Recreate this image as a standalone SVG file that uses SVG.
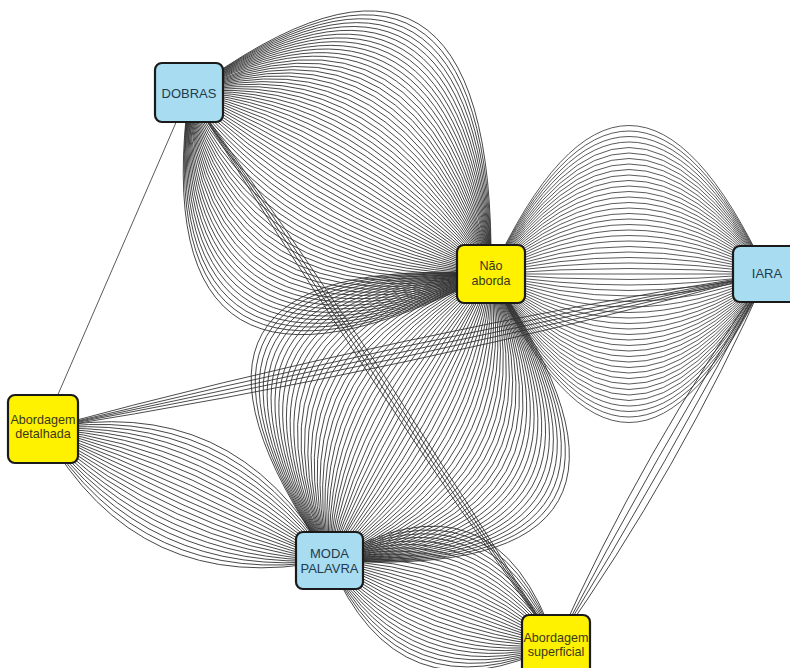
<svg xmlns="http://www.w3.org/2000/svg" width="790" height="668" viewBox="0 0 790 668">
<style>
.e path,.e line{fill:none;stroke:#303030;stroke-width:0.8}
.node rect{stroke:#1a1a1a;stroke-width:2.2}
.blue rect{fill:#a8dcf1}
.yel rect{fill:#fff200}
.node text{font-family:"Liberation Sans",Arial,sans-serif;text-anchor:middle}
.blue text{fill:#243b4c;font-size:13px}
.yel text{fill:#3a381c;font-size:12.6px}
</style>
<rect width="790" height="668" fill="#ffffff"/>
<g id="connectors" class="e">
<g id="e-dobras-nao" transform="translate(340,183.25) rotate(31)">
<path d="M-176.2,0Q-30,-354 176.2,0"/><path d="M-176.2,0Q-30,-344 176.2,0"/><path d="M-176.2,0Q-30,-334 176.2,0"/><path d="M-176.2,0Q-30,-324 176.2,0"/><path d="M-176.2,0Q-30,-314 176.2,0"/><path d="M-176.2,0Q-30,-304 176.2,0"/><path d="M-176.2,0Q-30,-294 176.2,0"/><path d="M-176.2,0Q-30,-284 176.2,0"/><path d="M-176.2,0Q-30,-274 176.2,0"/><path d="M-176.2,0Q-30,-264 176.2,0"/><path d="M-176.2,0Q-30,-254 176.2,0"/><path d="M-176.2,0Q-30,-244 176.2,0"/><path d="M-176.2,0Q-30,-234 176.2,0"/><path d="M-176.2,0Q-30,-224 176.2,0"/><path d="M-176.2,0Q-30,-214 176.2,0"/><path d="M-176.2,0Q-30,-204 176.2,0"/><path d="M-176.2,0Q-30,-194 176.2,0"/><path d="M-176.2,0Q-30,-184 176.2,0"/><path d="M-176.2,0Q-30,-174 176.2,0"/><path d="M-176.2,0Q-30,-164 176.2,0"/><path d="M-176.2,0Q-30,-154 176.2,0"/><path d="M-176.2,0Q-30,-144 176.2,0"/><path d="M-176.2,0Q-30,-134 176.2,0"/><path d="M-176.2,0Q-30,-124 176.2,0"/><path d="M-176.2,0Q-30,-114 176.2,0"/><path d="M-176.2,0Q-30,-104 176.2,0"/><path d="M-176.2,0Q-30,-94 176.2,0"/><path d="M-176.2,0Q-30,-84 176.2,0"/><path d="M-176.2,0Q-30,-74 176.2,0"/><path d="M-176.2,0Q-30,-64 176.2,0"/><path d="M-176.2,0Q-30,-54 176.2,0"/><path d="M-176.2,0Q-30,-44 176.2,0"/><path d="M-176.2,0Q-30,-34 176.2,0"/><path d="M-176.2,0Q-30,-24 176.2,0"/><path d="M-176.2,0Q-30,-14 176.2,0"/><path d="M-176.2,0Q-30,-4 176.2,0"/><path d="M-176.2,0Q-30,6 176.2,0"/><path d="M-176.2,0Q-30,16 176.2,0"/><path d="M-176.2,0Q-30,26 176.2,0"/><path d="M-176.2,0Q-30,36 176.2,0"/><path d="M-176.2,0Q-30,46 176.2,0"/><path d="M-176.2,0Q-30,56 176.2,0"/><path d="M-176.2,0Q-30,66 176.2,0"/><path d="M-176.2,0Q-30,76 176.2,0"/><path d="M-176.2,0Q-30,86 176.2,0"/><path d="M-176.2,0Q-30,96 176.2,0"/><path d="M-176.2,0Q-30,106 176.2,0"/><path d="M-176.2,0Q-30,116 176.2,0"/><path d="M-176.2,0Q-30,126 176.2,0"/><path d="M-176.2,0Q-30,136 176.2,0"/><path d="M-176.2,0Q-30,146 176.2,0"/><path d="M-176.2,0Q-30,156 176.2,0"/><path d="M-176.2,0Q-30,166 176.2,0"/><path d="M-176.2,0Q-30,176 176.2,0"/><path d="M-176.2,0Q-30,186 176.2,0"/><path d="M-176.2,0Q-30,196 176.2,0"/><path d="M-176.2,0Q-30,206 176.2,0"/><path d="M-176.2,0Q-30,216 176.2,0"/><path d="M-176.2,0Q-30,226 176.2,0"/><path d="M-176.2,0Q-30,236 176.2,0"/><path d="M-176.2,0Q-30,246 176.2,0"/><path d="M-176.2,0Q-30,256 176.2,0"/><path d="M-176.2,0Q-30,266 176.2,0"/><path d="M-176.2,0Q-30,276 176.2,0"/><path d="M-176.2,0Q-30,286 176.2,0"/><path d="M-176.2,0Q-30,296 176.2,0"/><path d="M-176.2,0Q-30,306 176.2,0"/><path d="M-176.2,0Q-30,316 176.2,0"/><path d="M-176.2,0Q-30,326 176.2,0"/><path d="M-176.2,0Q-30,336 176.2,0"/>
</g>
<g id="e-nao-iara" transform="translate(629,274)">
<path d="M-138,0Q0,-297 138,0"/><path d="M-138,0Q0,-286 138,0"/><path d="M-138,0Q0,-275 138,0"/><path d="M-138,0Q0,-264 138,0"/><path d="M-138,0Q0,-253 138,0"/><path d="M-138,0Q0,-242 138,0"/><path d="M-138,0Q0,-231 138,0"/><path d="M-138,0Q0,-220 138,0"/><path d="M-138,0Q0,-209 138,0"/><path d="M-138,0Q0,-198 138,0"/><path d="M-138,0Q0,-187 138,0"/><path d="M-138,0Q0,-176 138,0"/><path d="M-138,0Q0,-165 138,0"/><path d="M-138,0Q0,-154 138,0"/><path d="M-138,0Q0,-143 138,0"/><path d="M-138,0Q0,-132 138,0"/><path d="M-138,0Q0,-121 138,0"/><path d="M-138,0Q0,-110 138,0"/><path d="M-138,0Q0,-99 138,0"/><path d="M-138,0Q0,-88 138,0"/><path d="M-138,0Q0,-77 138,0"/><path d="M-138,0Q0,-66 138,0"/><path d="M-138,0Q0,-55 138,0"/><path d="M-138,0Q0,-44 138,0"/><path d="M-138,0Q0,-33 138,0"/><path d="M-138,0Q0,-22 138,0"/><path d="M-138,0Q0,-11 138,0"/><path d="M-138,0L138,0"/><path d="M-138,0Q0,11 138,0"/><path d="M-138,0Q0,22 138,0"/><path d="M-138,0Q0,33 138,0"/><path d="M-138,0Q0,44 138,0"/><path d="M-138,0Q0,55 138,0"/><path d="M-138,0Q0,66 138,0"/><path d="M-138,0Q0,77 138,0"/><path d="M-138,0Q0,88 138,0"/><path d="M-138,0Q0,99 138,0"/><path d="M-138,0Q0,110 138,0"/><path d="M-138,0Q0,121 138,0"/><path d="M-138,0Q0,132 138,0"/><path d="M-138,0Q0,143 138,0"/><path d="M-138,0Q0,154 138,0"/><path d="M-138,0Q0,165 138,0"/><path d="M-138,0Q0,176 138,0"/><path d="M-138,0Q0,187 138,0"/><path d="M-138,0Q0,198 138,0"/><path d="M-138,0Q0,209 138,0"/><path d="M-138,0Q0,220 138,0"/><path d="M-138,0Q0,231 138,0"/><path d="M-138,0Q0,242 138,0"/><path d="M-138,0Q0,253 138,0"/><path d="M-138,0Q0,264 138,0"/><path d="M-138,0Q0,275 138,0"/><path d="M-138,0Q0,286 138,0"/><path d="M-138,0Q0,297 138,0"/>
</g>
<g id="e-nao-moda" transform="translate(410.25,417.25) rotate(119.4)">
<path d="M-164.4,0Q0,-340 164.4,0"/><path d="M-164.4,0Q0,-330 164.4,0"/><path d="M-164.4,0Q0,-320 164.4,0"/><path d="M-164.4,0Q0,-310 164.4,0"/><path d="M-164.4,0Q0,-300 164.4,0"/><path d="M-164.4,0Q0,-290 164.4,0"/><path d="M-164.4,0Q0,-280 164.4,0"/><path d="M-164.4,0Q0,-270 164.4,0"/><path d="M-164.4,0Q0,-260 164.4,0"/><path d="M-164.4,0Q0,-250 164.4,0"/><path d="M-164.4,0Q0,-240 164.4,0"/><path d="M-164.4,0Q0,-230 164.4,0"/><path d="M-164.4,0Q0,-220 164.4,0"/><path d="M-164.4,0Q0,-210 164.4,0"/><path d="M-164.4,0Q0,-200 164.4,0"/><path d="M-164.4,0Q0,-190 164.4,0"/><path d="M-164.4,0Q0,-180 164.4,0"/><path d="M-164.4,0Q0,-170 164.4,0"/><path d="M-164.4,0Q0,-160 164.4,0"/><path d="M-164.4,0Q0,-150 164.4,0"/><path d="M-164.4,0Q0,-140 164.4,0"/><path d="M-164.4,0Q0,-130 164.4,0"/><path d="M-164.4,0Q0,-120 164.4,0"/><path d="M-164.4,0Q0,-110 164.4,0"/><path d="M-164.4,0Q0,-100 164.4,0"/><path d="M-164.4,0Q0,-90 164.4,0"/><path d="M-164.4,0Q0,-80 164.4,0"/><path d="M-164.4,0Q0,-70 164.4,0"/><path d="M-164.4,0Q0,-60 164.4,0"/><path d="M-164.4,0Q0,-50 164.4,0"/><path d="M-164.4,0Q0,-40 164.4,0"/><path d="M-164.4,0Q0,-30 164.4,0"/><path d="M-164.4,0Q0,-20 164.4,0"/><path d="M-164.4,0Q0,-10 164.4,0"/><path d="M-164.4,0L164.4,0"/><path d="M-164.4,0Q0,10 164.4,0"/><path d="M-164.4,0Q0,20 164.4,0"/><path d="M-164.4,0Q0,30 164.4,0"/><path d="M-164.4,0Q0,40 164.4,0"/><path d="M-164.4,0Q0,50 164.4,0"/><path d="M-164.4,0Q0,60 164.4,0"/><path d="M-164.4,0Q0,70 164.4,0"/><path d="M-164.4,0Q0,80 164.4,0"/><path d="M-164.4,0Q0,90 164.4,0"/><path d="M-164.4,0Q0,100 164.4,0"/><path d="M-164.4,0Q0,110 164.4,0"/><path d="M-164.4,0Q0,120 164.4,0"/><path d="M-164.4,0Q0,130 164.4,0"/><path d="M-164.4,0Q0,140 164.4,0"/><path d="M-164.4,0Q0,150 164.4,0"/><path d="M-164.4,0Q0,160 164.4,0"/><path d="M-164.4,0Q0,170 164.4,0"/><path d="M-164.4,0Q0,180 164.4,0"/><path d="M-164.4,0Q0,190 164.4,0"/><path d="M-164.4,0Q0,200 164.4,0"/><path d="M-164.4,0Q0,210 164.4,0"/><path d="M-164.4,0Q0,220 164.4,0"/><path d="M-164.4,0Q0,230 164.4,0"/><path d="M-164.4,0Q0,240 164.4,0"/><path d="M-164.4,0Q0,250 164.4,0"/><path d="M-164.4,0Q0,260 164.4,0"/><path d="M-164.4,0Q0,270 164.4,0"/><path d="M-164.4,0Q0,280 164.4,0"/><path d="M-164.4,0Q0,290 164.4,0"/><path d="M-164.4,0Q0,300 164.4,0"/><path d="M-164.4,0Q0,310 164.4,0"/><path d="M-164.4,0Q0,320 164.4,0"/><path d="M-164.4,0Q0,330 164.4,0"/><path d="M-164.4,0Q0,340 164.4,0"/>
</g>
<g id="e-detalhada-moda" transform="translate(186.25,494.75) rotate(24.65)">
<path d="M-157.6,0Q0,-115.5 157.6,0"/><path d="M-157.6,0Q0,-105 157.6,0"/><path d="M-157.6,0Q0,-94.5 157.6,0"/><path d="M-157.6,0Q0,-84 157.6,0"/><path d="M-157.6,0Q0,-73.5 157.6,0"/><path d="M-157.6,0Q0,-63 157.6,0"/><path d="M-157.6,0Q0,-52.5 157.6,0"/><path d="M-157.6,0Q0,-42 157.6,0"/><path d="M-157.6,0Q0,-31.5 157.6,0"/><path d="M-157.6,0Q0,-21 157.6,0"/><path d="M-157.6,0Q0,-10.5 157.6,0"/><path d="M-157.6,0L157.6,0"/><path d="M-157.6,0Q0,10.5 157.6,0"/><path d="M-157.6,0Q0,21 157.6,0"/><path d="M-157.6,0Q0,31.5 157.6,0"/><path d="M-157.6,0Q0,42 157.6,0"/><path d="M-157.6,0Q0,52.5 157.6,0"/><path d="M-157.6,0Q0,63 157.6,0"/><path d="M-157.6,0Q0,73.5 157.6,0"/><path d="M-157.6,0Q0,84 157.6,0"/><path d="M-157.6,0Q0,94.5 157.6,0"/><path d="M-157.6,0Q0,105 157.6,0"/><path d="M-157.6,0Q0,115.5 157.6,0"/>
</g>
<g id="e-moda-superficial" transform="translate(442.75,602.75) rotate(20.46)">
<path d="M-120.9,0Q0,-150 120.9,0"/><path d="M-120.9,0Q0,-141 120.9,0"/><path d="M-120.9,0Q0,-132 120.9,0"/><path d="M-120.9,0Q0,-123 120.9,0"/><path d="M-120.9,0Q0,-114 120.9,0"/><path d="M-120.9,0Q0,-105 120.9,0"/><path d="M-120.9,0Q0,-96 120.9,0"/><path d="M-120.9,0Q0,-87 120.9,0"/><path d="M-120.9,0Q0,-78 120.9,0"/><path d="M-120.9,0Q0,-69 120.9,0"/><path d="M-120.9,0Q0,-60 120.9,0"/><path d="M-120.9,0Q0,-51 120.9,0"/><path d="M-120.9,0Q0,-42 120.9,0"/><path d="M-120.9,0Q0,-33 120.9,0"/><path d="M-120.9,0Q0,-24 120.9,0"/><path d="M-120.9,0Q0,-15 120.9,0"/><path d="M-120.9,0Q0,-6 120.9,0"/><path d="M-120.9,0Q0,3 120.9,0"/><path d="M-120.9,0Q0,12 120.9,0"/><path d="M-120.9,0Q0,21 120.9,0"/><path d="M-120.9,0Q0,30 120.9,0"/><path d="M-120.9,0Q0,39 120.9,0"/><path d="M-120.9,0Q0,48 120.9,0"/><path d="M-120.9,0Q0,57 120.9,0"/><path d="M-120.9,0Q0,66 120.9,0"/><path d="M-120.9,0Q0,75 120.9,0"/><path d="M-120.9,0Q0,84 120.9,0"/><path d="M-120.9,0Q0,93 120.9,0"/><path d="M-120.9,0Q0,102 120.9,0"/><path d="M-120.9,0Q0,111 120.9,0"/><path d="M-120.9,0Q0,120 120.9,0"/><path d="M-120.9,0Q0,129 120.9,0"/>
</g>
<g id="e-detalhada-iara" transform="translate(405,351.5) rotate(-12.08)">
<path d="M-370.2,0Q0,-20 370.2,0"/><path d="M-370.2,0Q0,-10 370.2,0"/><path d="M-370.2,0L370.2,0"/><path d="M-370.2,0Q0,10 370.2,0"/><path d="M-370.2,0Q0,20 370.2,0"/>
</g>
<g id="e-dobras-superficial" transform="translate(372.5,368.75) rotate(56.41)">
<path d="M-331.6,0Q0,-12 331.6,0"/><path d="M-331.6,0Q0,-4 331.6,0"/><path d="M-331.6,0Q0,4 331.6,0"/><path d="M-331.6,0Q0,12 331.6,0"/>
</g>
<g id="e-iara-superficial" transform="translate(661.5,459.5) rotate(119.63)">
<path d="M-213.4,0Q0,-21 213.4,0"/><path d="M-213.4,0Q0,-7 213.4,0"/><path d="M-213.4,0Q0,7 213.4,0"/><path d="M-213.4,0Q0,21 213.4,0"/>
</g>
<line id="e-dobras-detalhada" x1="189" y1="92.5" x2="43" y2="429"/>
</g>
<g id="n-dobras" class="node blue">
<rect x="155" y="63" width="68" height="59" rx="7"/>
<text x="189" y="97.5">DOBRAS</text>
</g>
<g id="n-nao-aborda" class="node yel">
<rect x="457" y="245" width="68" height="58" rx="7"/>
<text x="491" y="270">Não</text>
<text x="491" y="285">aborda</text>
</g>
<g id="n-iara" class="node blue">
<rect x="733" y="246" width="68" height="56" rx="7"/>
<text x="767" y="277.5">IARA</text>
</g>
<g id="n-abordagem-detalhada" class="node yel">
<rect x="8" y="395" width="70" height="68" rx="7"/>
<text x="43" y="423.5">Abordagem</text>
<text x="43" y="438">detalhada</text>
</g>
<g id="n-moda-palavra" class="node blue">
<rect x="296" y="532" width="67" height="57" rx="7"/>
<text x="329.5" y="557.5">MODA</text>
<text x="329.5" y="572.5">PALAVRA</text>
</g>
<g id="n-abordagem-superficial" class="node yel">
<rect x="522" y="615" width="68" height="62" rx="7"/>
<text x="556" y="641.5">Abordagem</text>
<text x="556" y="656">superficial</text>
</g>
</svg>
